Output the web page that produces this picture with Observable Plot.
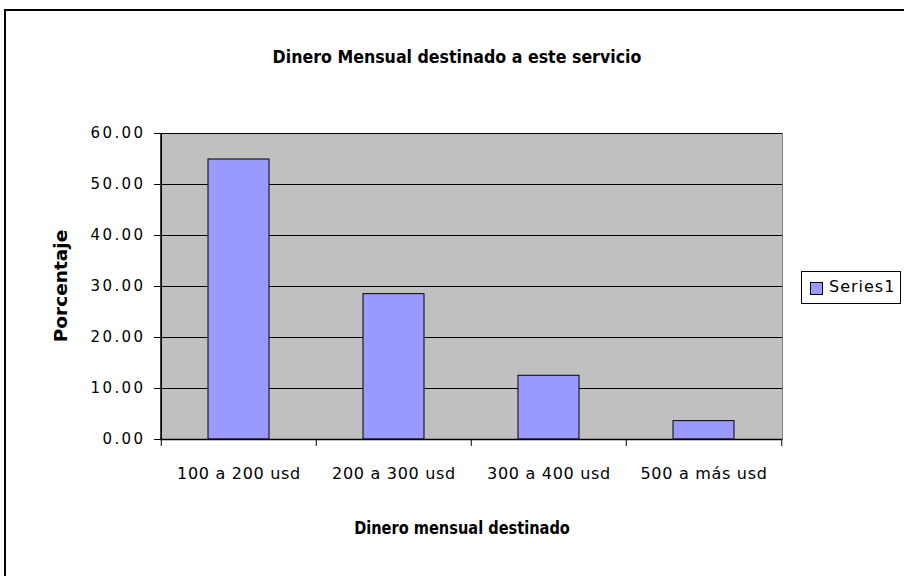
<!DOCTYPE html>
<html>
<head>
<meta charset="utf-8">
<script src="https://cdn.jsdelivr.net/npm/d3@7"></script>
<script src="https://cdn.jsdelivr.net/npm/@observablehq/plot@0.6"></script>
<style>
  html, body { margin: 0; padding: 0; background: #fff; overflow: hidden; }
  #wrap { position: relative; width: 904px; height: 576px; overflow: hidden; }
  #border { position: absolute; left: 4px; top: 9px; width: 1000px; height: 1000px; border: 2px solid #000; box-sizing: border-box; }
  #chart { position: absolute; left: 0; top: 0; }
  .t { position: absolute; font-family: "DejaVu Sans", sans-serif; font-weight: bold; color: #000; white-space: nowrap; }
  #title { left: 457px; top: 56px; transform: translate(-50%, -50%) scaleX(0.88); font-size: 18px; }
  #xtitle { left: 462px; top: 527px; transform: translate(-50%, -50%) scaleX(0.81); font-size: 18px; }
  #ytitle { left: 60px; top: 286px; transform: translate(-50%, -50%) rotate(-90deg) scaleX(1.03); font-size: 18px; }
  #legend { position: absolute; left: 801px; top: 271px; width: 100px; height: 33px; border: 1px solid #000; box-sizing: border-box; background: #fff; }
  #legend .sw { position: absolute; left: 8px; top: 10px; width: 13px; height: 13px; background: #9999ff; border: 1px solid #000; box-sizing: border-box; }
  #legend .lab { position: absolute; left: 27px; top: 5px; font-family: "DejaVu Sans", sans-serif; font-size: 16px; letter-spacing: 1px; color: #000; }
  g[aria-label="y-axis tick label"] text { letter-spacing: 2.4px; }
  g[aria-label="x-axis tick label"] text { letter-spacing: 0.7px; }
</style>
</head>
<body>
<div id="wrap">
  <div id="border"></div>
  <div id="chart"></div>
  <div class="t" id="title">Dinero Mensual destinado a este servicio</div>
  <div class="t" id="xtitle">Dinero mensual destinado</div>
  <div class="t" id="ytitle">Porcentaje</div>
  <div id="legend"><div class="sw"></div><div class="lab">Series1</div></div>
</div>
<script>
const categories = ["100 a 200 usd", "200 a 300 usd", "300 a 400 usd", "500 a más usd"];
const values = [54.9, 28.5, 12.5, 3.6];
const yTicks = [0, 10, 20, 30, 40, 50, 60];
const seriesName = "Series1";

const data = categories.map((c, i) => ({cat: c, val: values[i]}));

const W = 904, H = 576, ML = 160, MR = 122, MT = 133, MB = 137;
const bw = (W - ML - MR) / categories.length;

const chart = Plot.plot({
  width: W,
  height: H,
  marginLeft: ML,
  marginRight: MR,
  marginTop: MT,
  marginBottom: MB,
  style: {background: "transparent", overflow: "visible"},
  x: {domain: categories, paddingInner: 0.607, paddingOuter: 0.3035, align: 0.5, axis: null},
  y: {domain: [0, 60], axis: null},
  marks: [
    Plot.frame({fill: "#c0c0c0", stroke: "#808080"}),
    Plot.gridY(yTicks, {stroke: "#000", strokeOpacity: 1, strokeWidth: 1}),
    Plot.barY(data, {x: "cat", y: "val", fill: "#9999ff", stroke: "#000", strokeWidth: 1}),
    Plot.ruleY([0], {stroke: "#000", strokeWidth: 1.5}),
    Plot.ruleX([categories[0]], {y1: 0, y2: 60, dx: -bw / 2, stroke: "#000", strokeWidth: 1.5}),
    Plot.axisY({ticks: yTicks, tickSize: 6, tickPadding: 9, tickFormat: d3.format(".2f"),
      fontSize: 15, fontFamily: "DejaVu Sans", stroke: "#000", label: null}),
    Plot.axisX({ticks: categories, tickSize: 7, tickFormat: null, dx: -bw / 2, label: null, stroke: "#000"}),
    Plot.axisX({ticks: [categories[categories.length - 1]], tickSize: 7, tickFormat: null, dx: bw / 2, label: null, stroke: "#000"}),
    Plot.axisX({ticks: categories, tickSize: 0, tickPadding: 28, label: null,
      fontSize: 16, fontFamily: "DejaVu Sans, sans-serif"})
  ]
});
document.getElementById("chart").appendChild(chart);
</script>
</body>
</html>
